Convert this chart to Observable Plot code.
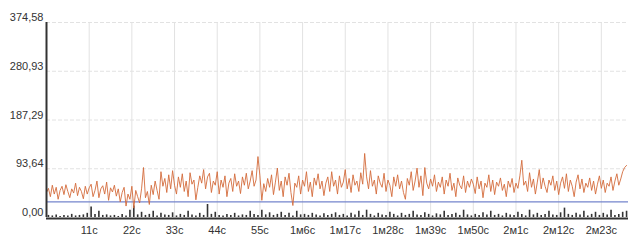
<!DOCTYPE html>
<html>
<head>
<meta charset="utf-8">
<script src="https://cdn.jsdelivr.net/npm/d3@7"></script>
<script src="https://cdn.jsdelivr.net/npm/@observablehq/plot@0.6"></script>
<style>
  html, body { margin: 0; padding: 0; background: #fff; }
  svg { display: block; }
</style>
</head>
<body>
<div id="chart"></div>
<script>
// Orange series: one value every 0.5 s, 0..150 s
const lineValues = [
  48,56,40,62,45,58,35,52,60,44,63,50,38,55,47,66,42,58,50,36,
  60,45,57,64,40,52,70,38,55,61,45,68,33,57,49,62,41,55,30,48,
  58,22,45,35,60,18,52,40,28,55,96,38,50,25,62,44,70,52,35,88,
  60,75,48,82,55,90,62,45,78,58,84,50,70,40,86,64,72,34,58,80,
  66,92,55,78,85,48,70,62,88,45,72,58,80,40,66,75,50,84,60,70,
  46,78,62,85,55,70,90,60,72,117,80,33,65,50,75,58,82,44,68,95,
  52,70,40,78,62,85,48,23,66,58,80,45,72,60,88,50,68,40,76,62,
  84,55,70,42,66,78,50,88,60,72,45,80,58,68,92,55,75,48,82,62,
  70,50,86,64,123,78,55,90,60,72,45,80,66,58,85,50,72,62,40,78,
  60,82,55,70,48,35,75,62,88,52,70,95,58,80,42,96,66,55,74,60,
  82,50,68,58,78,45,72,60,85,52,66,40,76,62,55,80,48,70,58,74,
  64,46,78,55,70,38,66,58,82,50,72,44,68,60,76,52,64,40,70,58,
  75,48,66,56,80,110,62,70,50,86,58,74,45,68,92,55,76,60,48,72,
  62,80,52,70,44,66,78,56,84,50,72,60,40,68,82,55,74,48,66,58,
  76,52,70,45,64,80,56,72,48,66,60,78,52,70,84,62,74,88,96,100
];
const lineStep = 0.5;

// Black bars: one value per second
const barValues = [
  4,3,5,2,4,3,6,3,4,5,8,20,6,12,4,
  5,3,4,2,6,3,14,22,5,10,4,6,12,3,8,
  5,4,9,3,6,4,12,5,3,8,4,25,6,10,4,
  3,6,4,8,3,5,4,12,6,4,14,5,9,4,6,
  10,4,8,3,12,5,6,4,8,5,3,7,4,6,9,
  4,6,3,8,5,12,4,14,6,3,8,5,4,10,6,
  3,8,4,6,12,5,4,9,6,3,7,5,12,4,6,
  8,4,14,5,3,6,4,9,5,12,4,6,3,8,5,
  4,10,6,3,14,5,8,4,6,12,5,4,9,18,6,
  4,8,5,12,3,6,10,4,8,5,14,4,6,10,12
];

// Blue reference level
const blueLevel = [30];

// Axes
const yTicks = [0, 93.64, 187.29, 280.93, 374.58];
const yTickLabels = ["0,00", "93,64", "187,29", "280,93", "374,58"];
const xTicks = [11, 22, 33, 44, 55, 66, 77, 88, 99, 110, 121, 132, 143];
const xTickLabels = ["11с", "22с", "33с", "44с", "55с", "1м6с", "1м17с", "1м28с", "1м39с", "1м50с", "2м1с", "2м12с", "2м23с"];

const lineData = lineValues.map((v, i) => ({t: i * lineStep, v}));
const barData = barValues.map((v, i) => ({t: i + 0.5, v}));

const chart = Plot.plot({
  width: 628,
  height: 240,
  marginLeft: 46,
  marginRight: 0,
  marginTop: 22,
  marginBottom: 23,
  style: {fontFamily: "'Liberation Sans', Arial, sans-serif", fontSize: "11px", color: "#333", background: "#fff"},
  x: {domain: [0, 150], axis: null},
  y: {domain: [0, 374.58], axis: null},
  marks: [
    Plot.ruleX(xTicks, {stroke: "#e2e2e2", strokeWidth: 1}),
    Plot.ruleY(yTicks.slice(1), {stroke: "#e2e2e2", strokeWidth: 1, strokeDasharray: "4,2"}),
    Plot.ruleY(blueLevel, {stroke: "#7585cc", strokeWidth: 1.2}),
    Plot.ruleX(barData, {x: "t", y1: 0, y2: "v", stroke: "#333", strokeWidth: 1.6}),
    Plot.line(lineData, {x: "t", y: "v", stroke: "#d46c3c", strokeWidth: 1, strokeOpacity: 0.9}),
    Plot.ruleY([0], {stroke: "#333", strokeWidth: 2, dy: 1}),
    Plot.ruleX([0], {stroke: "#333", strokeWidth: 2}),
    Plot.axisY(yTicks, {anchor: "left", label: null, tickSize: 0, tickPadding: 3, dy: -5, tickFormat: (d, i) => yTickLabels[i], fill: "#333", letterSpacing: "-0.4px"}),
    Plot.axisX(xTicks, {anchor: "bottom", label: null, tickSize: 0, tickPadding: 9, tickFormat: (d, i) => xTickLabels[i], fill: "#333", letterSpacing: "-0.4px"})
  ]
});
document.getElementById("chart").appendChild(chart);
</script>
</body>
</html>
